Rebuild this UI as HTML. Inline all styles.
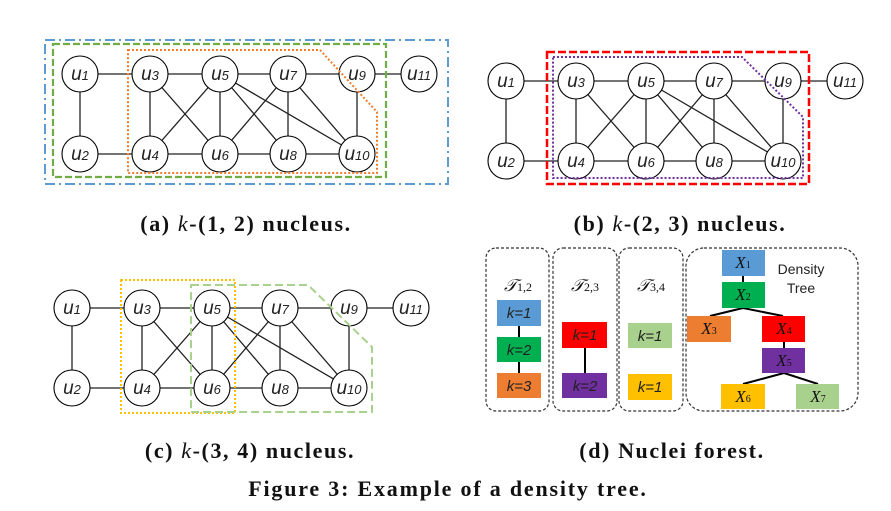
<!DOCTYPE html>
<html><head><meta charset="utf-8"><style>
html,body{margin:0;padding:0;background:#fff;}
svg{display:block;}
.n circle{fill:#fff;stroke:#000;stroke-width:1.1}
.n text{font-family:"Liberation Sans",sans-serif;font-style:italic;font-size:19px;fill:#222;text-anchor:middle}
.e line{stroke:#222;stroke-width:1.3}
.cap{font-family:"Liberation Serif",serif;font-weight:bold;font-size:22px;letter-spacing:1.6px;text-anchor:middle;fill:#111}
.bx text{font-family:"Liberation Sans",sans-serif;font-style:italic;font-size:15px;text-anchor:middle;fill:#222}
.tl{font-family:"Liberation Serif",serif;font-style:italic;font-size:17px;text-anchor:middle;fill:#111}
</style></head><body>
<svg width="891" height="511" viewBox="0 0 891 511" xmlns="http://www.w3.org/2000/svg">
<defs>
<g id="G">
<g class="e">
<line x1="0" y1="0" x2="70" y2="0"/><line x1="0" y1="0" x2="0" y2="80"/><line x1="0" y1="80" x2="70" y2="80"/>
<line x1="70" y1="0" x2="140" y2="0"/><line x1="140" y1="0" x2="208" y2="0"/><line x1="208" y1="0" x2="277" y2="0"/><line x1="277" y1="0" x2="339" y2="0"/>
<line x1="70" y1="0" x2="70" y2="80"/><line x1="70" y1="0" x2="140" y2="80"/><line x1="70" y1="80" x2="140" y2="0"/>
<line x1="140" y1="0" x2="140" y2="80"/><line x1="140" y1="0" x2="208" y2="80"/><line x1="140" y1="0" x2="277" y2="80"/>
<line x1="70" y1="80" x2="140" y2="80"/><line x1="140" y1="80" x2="208" y2="80"/><line x1="208" y1="80" x2="277" y2="80"/>
<line x1="140" y1="80" x2="208" y2="0"/><line x1="208" y1="0" x2="208" y2="80"/><line x1="208" y1="0" x2="277" y2="80"/><line x1="277" y1="0" x2="277" y2="80"/>
</g>
<g class="n">
<circle cx="0" cy="0" r="18"/><text x="0" y="6">u<tspan font-size="13">1</tspan></text>
<circle cx="70" cy="0" r="18"/><text x="70" y="6">u<tspan font-size="13">3</tspan></text>
<circle cx="140" cy="0" r="18"/><text x="140" y="6">u<tspan font-size="13">5</tspan></text>
<circle cx="208" cy="0" r="18"/><text x="208" y="6">u<tspan font-size="13">7</tspan></text>
<circle cx="277" cy="0" r="18"/><text x="277" y="6">u<tspan font-size="13">9</tspan></text>
<circle cx="339" cy="0" r="18"/><text x="339" y="6">u<tspan font-size="13">11</tspan></text>
<circle cx="0" cy="80" r="18"/><text x="0" y="86">u<tspan font-size="13">2</tspan></text>
<circle cx="70" cy="80" r="18"/><text x="70" y="86">u<tspan font-size="13">4</tspan></text>
<circle cx="140" cy="80" r="18"/><text x="140" y="86">u<tspan font-size="13">6</tspan></text>
<circle cx="208" cy="80" r="18"/><text x="208" y="86">u<tspan font-size="13">8</tspan></text>
<circle cx="277" cy="80" r="18"/><text x="277" y="86">u<tspan font-size="13">10</tspan></text>
</g>
</g>
</defs>

<!-- (a) -->
<use href="#G" transform="translate(80,74)"/>
<rect x="45" y="40" width="403" height="144" fill="none" stroke="#5b9bd5" stroke-width="2" stroke-dasharray="10,4,2,4"/>
<rect x="53" y="44" width="333" height="133" fill="none" stroke="#70ad47" stroke-width="2.2" stroke-dasharray="7,3"/>
<polygon points="128,50 320,50 377,112 377,173 128,173" fill="none" stroke="#ed7d31" stroke-width="2" stroke-dasharray="2,2"/>
<text class="cap" x="246" y="231">(a) <tspan font-weight="normal" font-style="italic">k</tspan>-(1, 2) nucleus.</text>

<!-- (b) -->
<use href="#G" transform="translate(506,81)"/>
<rect x="547" y="52" width="262" height="132" fill="none" stroke="#ff0000" stroke-width="2.5" stroke-dasharray="8,3"/>
<polygon points="553,57 742,57 803,117 803,178 553,178" fill="none" stroke="#7030a0" stroke-width="2" stroke-dasharray="2,2"/>
<text class="cap" x="680" y="231">(b) <tspan font-weight="normal" font-style="italic">k</tspan>-(2, 3) nucleus.</text>

<!-- (c) -->
<use href="#G" transform="translate(72,308)"/>
<rect x="121" y="280" width="114" height="133" fill="none" stroke="#ffc000" stroke-width="2" stroke-dasharray="2,2"/>
<polygon points="191,285 308,285 372,347 372,412 191,412" fill="none" stroke="#a9d18e" stroke-width="2" stroke-dasharray="8,4"/>
<text class="cap" x="250" y="458">(c) <tspan font-weight="normal" font-style="italic">k</tspan>-(3, 4) nucleus.</text>

<!-- (d) -->
<g fill="none" stroke="#333" stroke-width="1.2" stroke-dasharray="3,2">
<rect x="486" y="248" width="63" height="163" rx="10"/>
<rect x="553" y="248" width="64" height="163" rx="10"/>
<rect x="619" y="248" width="64" height="163" rx="10"/>
<rect x="686" y="248" width="172" height="163" rx="18"/>
</g>
<text class="tl" x="518" y="291">𝒯<tspan font-size="12" font-style="normal">1,2</tspan></text>
<text class="tl" x="585" y="291">𝒯<tspan font-size="12" font-style="normal">2,3</tspan></text>
<text class="tl" x="651" y="291">𝒯<tspan font-size="12" font-style="normal">3,4</tspan></text>
<g stroke="#000" stroke-width="2">
<line x1="519" y1="326" x2="519" y2="373"/>
<line x1="585" y1="348" x2="585" y2="373"/>
<line x1="743" y1="276" x2="743" y2="282"/>
<line x1="743" y1="308" x2="710" y2="316"/><line x1="743" y1="308" x2="783" y2="316"/>
<line x1="784" y1="342" x2="784" y2="348"/>
<line x1="784" y1="373" x2="743" y2="384"/><line x1="784" y1="373" x2="818" y2="384"/>
</g>
<g class="bx">
<rect x="497" y="300" width="44" height="26" fill="#5b9bd5"/><text x="519" y="318">k=1</text>
<rect x="497" y="337" width="44" height="25" fill="#00b050"/><text x="519" y="355">k=2</text>
<rect x="497" y="373" width="44" height="25" fill="#ed7d31"/><text x="519" y="391">k=3</text>
<rect x="562" y="322" width="45" height="26" fill="#ff0000"/><text x="585" y="340">k=1</text>
<rect x="562" y="373" width="45" height="25" fill="#7030a0"/><text x="585" y="391">k=2</text>
<rect x="628" y="323" width="44" height="25" fill="#a9d18e"/><text x="650" y="341">k=1</text>
<rect x="628" y="374" width="44" height="26" fill="#ffc000"/><text x="650" y="392">k=1</text>
<rect x="722" y="250" width="43" height="26" fill="#5b9bd5"/>
<rect x="722" y="282" width="43" height="26" fill="#00b050"/>
<rect x="687" y="316" width="44" height="26" fill="#ed7d31"/>
<rect x="762" y="316" width="43" height="26" fill="#ff0000"/>
<rect x="762" y="348" width="43" height="25" fill="#7030a0"/>
<rect x="721" y="384" width="44" height="25" fill="#ffc000"/>
<rect x="796" y="384" width="43" height="25" fill="#a9d18e"/>
</g>
<g class="tl" font-size="17">
<text x="743" y="268">X<tspan font-size="10" font-style="normal">1</tspan></text>
<text x="743" y="300">X<tspan font-size="10" font-style="normal">2</tspan></text>
<text x="709" y="334">X<tspan font-size="10" font-style="normal">3</tspan></text>
<text x="784" y="334">X<tspan font-size="10" font-style="normal">4</tspan></text>
<text x="784" y="366">X<tspan font-size="10" font-style="normal">5</tspan></text>
<text x="743" y="402">X<tspan font-size="10" font-style="normal">6</tspan></text>
<text x="818" y="402">X<tspan font-size="10" font-style="normal">7</tspan></text>
</g>
<text x="801" y="274" font-family="Liberation Sans,sans-serif" font-size="14" text-anchor="middle" fill="#222">Density</text>
<text x="801" y="293" font-family="Liberation Sans,sans-serif" font-size="14" text-anchor="middle" fill="#222">Tree</text>
<text class="cap" x="672" y="458">(d) Nuclei forest.</text>

<text class="cap" x="448" y="496" font-size="25" style="letter-spacing:1.8px">Figure 3: Example of a density tree.</text>
</svg>
</body></html>
